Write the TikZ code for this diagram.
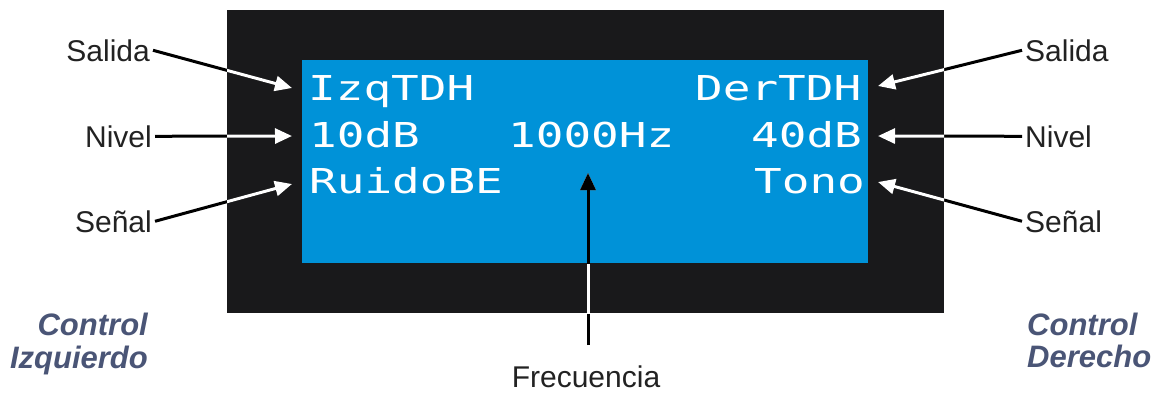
\documentclass[tikz,border=0pt]{standalone}
\usepackage{fontspec}
\setmainfont{Liberation Sans}
\newfontfamily\lcdfont[FakeStretch=1.34]{DejaVu Sans Mono}
\usetikzlibrary{arrows.meta}
\definecolor{frameblk}{HTML}{19191B}
\definecolor{lcdblue}{HTML}{0092D8}
\definecolor{ctrlcol}{HTML}{4A5576}
\definecolor{lblcol}{HTML}{222222}
\newcommand\conncol{black}
\newcommand\allconns{%
  \draw[conn, draw=\conncol] (salL.east) -- (tSalL);
  \draw[conn, draw=\conncol] (nivL.east) -- (tNivL);
  \draw[conn, draw=\conncol] (senL.east) -- (tSenL);
  \draw[conn, draw=\conncol] (salR.west) -- (tSalR);
  \draw[conn, draw=\conncol] (nivR.west) -- (tNivR);
  \draw[conn, draw=\conncol] (senR.west) -- (tSenR);
  \draw[conn, draw=\conncol] (fqTail) -- (tFreq);
}
\begin{document}
\begin{tikzpicture}[x=1pt,y=-1pt,
  lbl/.style={font=\fontsize{30}{30}\selectfont, text=lblcol, inner sep=3pt},
  ctrl/.style={font=\fontsize{31}{31}\selectfont\bfseries\itshape, text=ctrlcol, inner sep=0pt},
  lcd/.style={font=\lcdfont\fontsize{34.3}{34.3}\selectfont, text=white, inner sep=0pt, anchor=base west},
  conn/.style={line width=3pt, -{Triangle[length=17pt,width=15pt]}},
  panel/.style={draw=none, anchor=north west, inner sep=0pt, outer sep=0pt}]
\useasboundingbox (0,0) rectangle (1158,392);
% housing and screen
\node[panel, fill=frameblk, minimum width=717pt, minimum height=303pt] (frame) at (227,10) {};
\node[panel, fill=lcdblue, minimum width=566pt, minimum height=203pt] (screen) at (302,60) {};
% screen texts
\node[lcd] (izq) at (308,100) {IzqTDH};
\node[lcd] (der) at (695,100) {DerTDH};
\node[lcd] (nl) at (309,147) {10dB};
\node[lcd] (fq) at (508,147) {1000Hz};
\node[lcd] (nr) at (751,147) {40dB};
\node[lcd] (sl) at (309,193) {RuidoBE};
\node[lcd] (sr) at (754,193) {Tono};
% labels
\node[lbl, anchor=base east] (salL) at (153,61) {Salida};
\node[lbl, anchor=base east] (nivL) at (155,147) {Nivel};
\node[lbl, anchor=base east] (senL) at (155,232) {Señal};
\node[lbl, anchor=base west] (salR) at (1022,61) {Salida};
\node[lbl, anchor=base west] (nivR) at (1022,147) {Nivel};
\node[lbl, anchor=base west] (senR) at (1022,232) {Señal};
\node[lbl, anchor=base, inner sep=1pt] (freq) at (586,387) {Frecuencia};
\node[ctrl, anchor=base east] (ctlL1) at (148,335) {Control};
\node[ctrl, anchor=base east] (ctlL2) at (148,368) {Izquierdo};
\node[ctrl, anchor=base west] (ctlR1) at (1027,335) {Control};
\node[ctrl, anchor=base west] (ctlR2) at (1027,367) {Derecho};
% arrow targets
\coordinate (tSalL) at (292,88);
\coordinate (tNivL) at (292,136);
\coordinate (tSenL) at (292,184);
\coordinate (tSalR) at (878,86);
\coordinate (tNivR) at (878,136);
\coordinate (tSenR) at (878,182);
\coordinate (tFreq) at (588,173);
\coordinate (fqTail) at (588,345);
% connectors: black on white, white on the black housing, black on the screen
\allconns
\begin{scope}
  \clip (frame.north west) rectangle (frame.south east);
  \renewcommand\conncol{white}\allconns
\end{scope}
\begin{scope}
  \clip (screen.north west) rectangle (screen.south east);
  \renewcommand\conncol{black}\allconns
\end{scope}
\end{tikzpicture}
\end{document}
